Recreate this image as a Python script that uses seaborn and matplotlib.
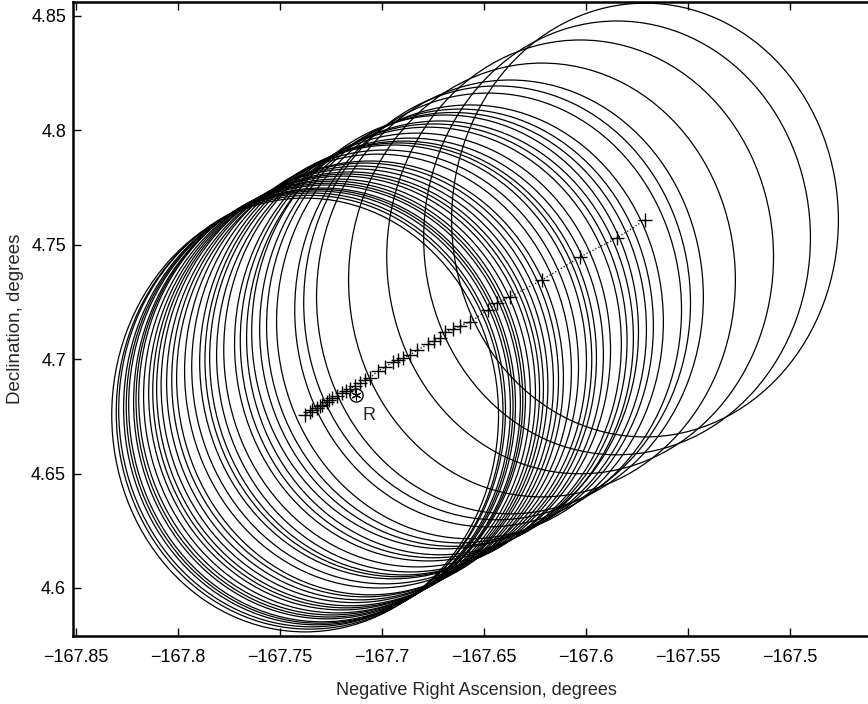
import matplotlib
matplotlib.use('Agg')
import matplotlib.pyplot as plt
from matplotlib.patches import Circle
import seaborn as sns

sns.set_style('ticks')
plt.rcParams['font.family'] = ['Liberation Sans', 'DejaVu Sans']
plt.rcParams['axes.unicode_minus'] = True

# track positions (negative RA, Dec), degrees
neg_ra = [-167.5711, -167.5848, -167.6029, -167.6216, -167.6373, -167.6436,
          -167.6480, -167.6569, -167.6618, -167.6652, -167.6691, -167.6716,
          -167.6747, -167.6775, -167.6828, -167.6863, -167.6897, -167.6920,
          -167.6946, -167.6985, -167.7020, -167.7059, -167.7083, -167.7108,
          -167.7135, -167.7157, -167.7176, -167.7196, -167.7221, -167.7245,
          -167.7258, -167.7270, -167.7294, -167.7306, -167.7319, -167.7343,
          -167.7355, -167.7377]
dec = [4.7608, 4.7530, 4.7447, 4.7346, 4.7272, 4.7246,
       4.7215, 4.7163, 4.7145, 4.7130, 4.7119, 4.7093,
       4.7080, 4.7066, 4.7040, 4.7018, 4.7005, 4.6997,
       4.6988, 4.6966, 4.6948, 4.6918, 4.6909, 4.6896,
       4.6884, 4.6870, 4.6861, 4.6852, 4.6839, 4.6830,
       4.6821, 4.6813, 4.6800, 4.6794, 4.6787, 4.6778,
       4.6768, 4.6756]
radius = 0.0948

ref_ra, ref_dec = -167.7127, 4.6843
ref_label = 'R'

fig = plt.figure(figsize=(8.68, 7.04), dpi=100)
ax = fig.add_axes([73 / 868, 1 - 636 / 704, (880 - 73) / 868, 634 / 704])

for x, y in zip(neg_ra, dec):
    ax.add_patch(Circle((x, y), radius, fill=False, edgecolor='black', linewidth=0.9))

ax.plot(neg_ra, dec, linestyle=':', color='black', linewidth=0.9)
sns.scatterplot(x=neg_ra, y=dec, marker='+', color='black', s=100, linewidth=1.0, ax=ax)

ax.plot(ref_ra, ref_dec, marker='o', markersize=9.5, markerfacecolor='none',
        markeredgecolor='black', markeredgewidth=1.0)
ax.plot(ref_ra, ref_dec, marker=(6, 2, 0), markersize=7, color='black', markeredgewidth=0.8)
ax.text(ref_ra + 0.003, ref_dec - 0.0088, ref_label, fontsize=13, va='center', ha='left')

ax.set_xlim(-167.8515, -167.4559)
ax.set_ylim(4.5790, 4.8561)

xt = [-167.85, -167.8, -167.75, -167.7, -167.65, -167.6, -167.55, -167.5]
yt = [4.6, 4.65, 4.7, 4.75, 4.8, 4.85]
ax.set_xticks(xt)
ax.set_xticklabels(['\u2212' + f'{-v:g}' for v in xt])
ax.set_yticks(yt)
ax.set_yticklabels([f'{v:g}' for v in yt])

ax.tick_params(direction='in', length=6, width=1.0, top=True, right=False,
               labelsize=13, colors='black')
ax.tick_params(axis='x', pad=9)
ax.tick_params(axis='y', pad=5)
for s in ax.spines.values():
    s.set_linewidth(1.8)
    s.set_color('black')

ax.set_xlabel('Negative Right Ascension, degrees', fontsize=13, labelpad=12)
ax.set_ylabel('Declination, degrees', fontsize=13.5, labelpad=5)

fig.savefig('out.png', dpi=100)
